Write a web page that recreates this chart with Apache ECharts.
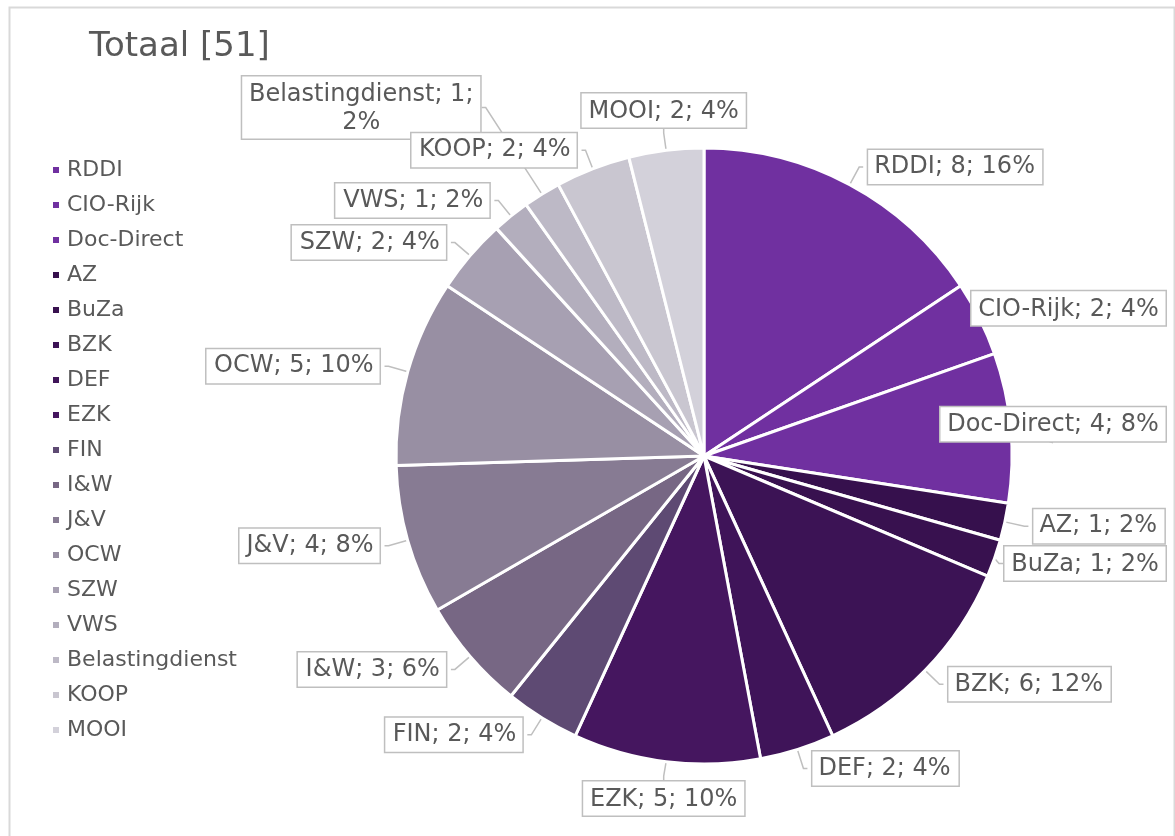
<!DOCTYPE html>
<html>
<head>
<meta charset="utf-8">
<script src="https://cdn.jsdelivr.net/npm/echarts@6/dist/echarts.min.js"></script>
<style>
  html, body { margin: 0; padding: 0; background: #fff; }
  #chart { width: 1175px; height: 836px; }
</style>
</head>
<body>
<div id="chart"></div>
<script>
var categories = ['RDDI', 'CIO-Rijk', 'Doc-Direct', 'AZ', 'BuZa', 'BZK', 'DEF', 'EZK', 'FIN',
    'I&W', 'J&V', 'OCW', 'SZW', 'VWS', 'Belastingdienst', 'KOOP', 'MOOI'];
var counts = [8, 2, 4, 1, 1, 6, 2, 5, 2, 3, 4, 5, 2, 1, 1, 2, 2];
var colors = ['#7030a0', '#7030a0', '#7030a0', '#36104d', '#38114f', '#3c1355', '#3f1459',
    '#45165f', '#5e4a73', '#776784', '#877b93', '#988fa3', '#a7a0b2', '#b3aebd',
    '#bdb9c6', '#c9c6d0', '#d3d1da'];
var total = 51;

var labelFont = '24px "DejaVu Sans"';
var rightLimit = 1167;

// label text, Excel style: name; value; percentage
function labelText(name, value) {
    var pct = Math.round(value / total * 100);
    var sep = name.length > 12 ? ';\n' : '; ';
    return name + '; ' + value + sep + pct + '%';
}

// measure text so the pie layout does not truncate labels at the edge
var ctx = document.createElement('canvas').getContext('2d');
ctx.font = labelFont;
function textWidth(s) {
    var lines = s.split('\n');
    var w = 0;
    for (var k = 0; k < lines.length; k++) {
        w = Math.max(w, ctx.measureText(lines[k]).width);
    }
    return Math.ceil(w) + 1;
}

// mid angle of each slice, degrees clockwise from 12 o'clock
var midAngles = [];
var run = 0;
for (var m = 0; m < counts.length; m++) {
    midAngles.push((run + counts[m] / 2) / total * 360);
    run += counts[m];
}

var dom = document.getElementById('chart');
var myChart = echarts.init(dom);

var pieData = [];
for (var i = 0; i < categories.length; i++) {
    var txt = labelText(categories[i], counts[i]);
    var item = {
        name: categories[i],
        value: counts[i],
        itemStyle: { color: colors[i] },
        label: { width: textWidth(txt) }
    };
    if (txt.indexOf('\n') >= 0) {
        // two-line callout sits further out
        item.labelLine = { length: 100 };
    }
    pieData.push(item);
}

var option = {
    backgroundColor: '#fff',
    animation: false,
    graphic: [{
        type: 'rect',
        left: 7,
        top: 5,
        shape: { width: 1165, height: 850 },
        style: { fill: 'none', stroke: '#d9d9d9', lineWidth: 2 },
        silent: true
    }],
    title: {
        text: 'Totaal [' + total + ']',
        left: 84,
        top: 25,
        textStyle: {
            fontFamily: 'DejaVu Sans',
            fontWeight: 'normal',
            fontSize: 34,
            color: '#595959'
        }
    },
    legend: {
        orient: 'vertical',
        left: 46,
        top: 154,
        icon: 'rect',
        itemWidth: 8,
        itemHeight: 8,
        itemGap: 13,
        data: categories,
        textStyle: {
            fontFamily: 'DejaVu Sans',
            fontSize: 22,
            lineHeight: 22,
            color: '#595959',
            padding: [0, 0, 0, 2]
        }
    },
    series: [{
        type: 'pie',
        center: [704, 456],
        radius: 308,
        startAngle: 90,
        clockwise: true,
        avoidLabelOverlap: false,
        data: pieData,
        itemStyle: {
            borderColor: '#fff',
            borderWidth: 3
        },
        label: {
            show: true,
            position: 'outside',
            bleedMargin: 0,
            formatter: function (p) {
                return labelText(p.name, p.value);
            },
            fontFamily: 'DejaVu Sans',
            fontSize: 24,
            lineHeight: 28,
            color: '#595959',
            backgroundColor: '#fff',
            borderColor: '#bfbfbf',
            borderWidth: 1.5,
            padding: [4, 6, 2, 6]
        },
        labelLine: {
            show: true,
            length: 20,
            length2: 4,
            lineStyle: { color: '#bfbfbf', width: 1.5 }
        },
        labelLayout: function (p) {
            var r = p.labelRect;
            var a = midAngles[p.dataIndex] * Math.PI / 180;
            var pts = p.labelLinePoints;
            var x = r.x, y = r.y, changed = false;
            // slices near 12 / 6 o'clock: centre the box over the leader bend
            if (Math.abs(Math.sin(a)) < 0.25 && pts) {
                x = pts[1][0] - r.width / 2;
                y = Math.cos(a) > 0 ? pts[1][1] - r.height : pts[1][1];
                changed = true;
            }
            if (p.text.indexOf('\n') >= 0) {
                changed = true;
            }
            if (x + r.width > rightLimit) {
                x = rightLimit - r.width;
                changed = true;
            }
            if (!changed) {
                return {};
            }
            return { x: x + r.width / 2, y: y, align: 'center', verticalAlign: 'top' };
        },
        emphasis: { disabled: true }
    }]
};

myChart.setOption(option);
</script>
</body>
</html>
